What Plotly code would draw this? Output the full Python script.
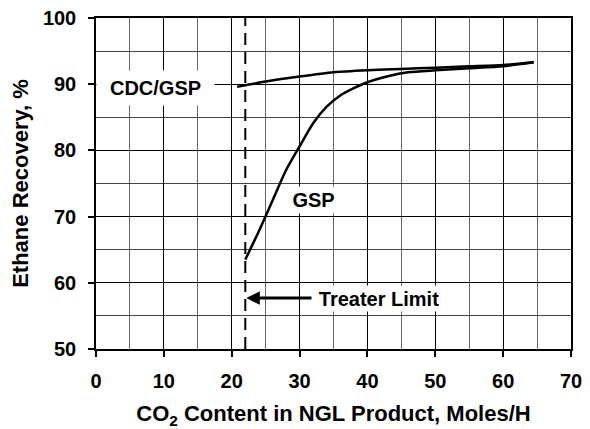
import plotly.graph_objects as go

# ---- data ----
gsp_x = [22.0, 24.0, 26.0, 28.0, 30.0, 32.0, 34.0, 36.0, 38.0, 40.0, 43.0, 46.0, 50.0, 55.0, 60.0, 64.5]
gsp_y = [63.5, 67.8, 72.4, 77.0, 80.6, 84.1, 86.6, 88.3, 89.4, 90.3, 91.2, 91.8, 92.1, 92.4, 92.7, 93.3]

cdc_x = [20.8, 25.0, 30.0, 35.0, 40.0, 45.0, 50.0, 55.0, 60.0, 64.5]
cdc_y = [89.6, 90.4, 91.15, 91.8, 92.1, 92.3, 92.5, 92.7, 92.9, 93.3]

treater_limit = 22.0
y_range = [50, 100]
x_range = [0, 70]

FONT = "Liberation Sans, Arial, sans-serif"

fig = go.Figure()

fig.add_trace(go.Scatter(x=[treater_limit, treater_limit], y=y_range, mode="lines",
                         line=dict(color="black", width=2, dash="12px,7px"),
                         showlegend=False, hoverinfo="skip"))
fig.add_trace(go.Scatter(x=cdc_x, y=cdc_y, mode="lines", name="CDC/GSP",
                         line=dict(color="black", width=2.5, shape="spline", smoothing=0.6),
                         showlegend=False))
fig.add_trace(go.Scatter(x=gsp_x, y=gsp_y, mode="lines", name="GSP",
                         line=dict(color="black", width=2.5, shape="spline", smoothing=0.7),
                         showlegend=False))

fig.add_annotation(x=8.7, y=89.5, text="CDC/GSP", showarrow=False, bgcolor="white",
                   width=117, height=34, borderpad=0,
                   font=dict(size=20, color="black", family=FONT, weight="bold"))
fig.add_annotation(x=32.1, y=72.5, text="GSP", showarrow=False, bgcolor="white",
                   width=59, height=26, borderpad=0,
                   font=dict(size=20, color="black", family=FONT, weight="bold"))
fig.add_annotation(x=treater_limit + 0.15, y=57.7, ax=41.7, ay=57.7, axref="x", ayref="y",
                   text="Treater Limit", showarrow=True, arrowhead=2, arrowsize=0.9,
                   arrowwidth=3, arrowcolor="black", bgcolor="white",
                   width=134, height=25, borderpad=0,
                   font=dict(size=20, color="black", family=FONT, weight="bold"))

axis_common = dict(showline=True, linecolor="black", linewidth=1.5, mirror=True,
                   ticks="outside", ticklen=6, tickcolor="black", tickwidth=1.5,
                   showgrid=True, gridcolor="#000000", gridwidth=1, zeroline=False,
                   tickfont=dict(size=20, color="black", family=FONT, weight="bold"))

fig.update_xaxes(range=x_range, dtick=10, tick0=0,
                 minor=dict(dtick=5, showgrid=True, gridcolor="#666666", gridwidth=1, ticks=""),
                 title=dict(text="CO<sub>2</sub> Content in NGL Product, Moles/H", standoff=19,
                            font=dict(size=22, color="black", family=FONT, weight="bold")),
                 ticklabelstandoff=7, **axis_common)
fig.update_yaxes(range=y_range, dtick=10, tick0=50,
                 minor=dict(dtick=5, showgrid=True, gridcolor="#444444", gridwidth=1, ticks=""),
                 title=dict(text="Ethane Recovery, %", standoff=8,
                            font=dict(size=22, color="black", family=FONT, weight="bold")),
                 ticklabelstandoff=8, **axis_common)

fig.update_layout(width=590, height=429, margin=dict(l=96, r=19, t=18, b=80, autoexpand=False),
                  plot_bgcolor="white", paper_bgcolor="white",
                  font=dict(family=FONT, color="black", weight="bold"))

fig.write_html("out.html", config={"displayModeBar": False},
               post_script="document.body.style.margin='0';")
